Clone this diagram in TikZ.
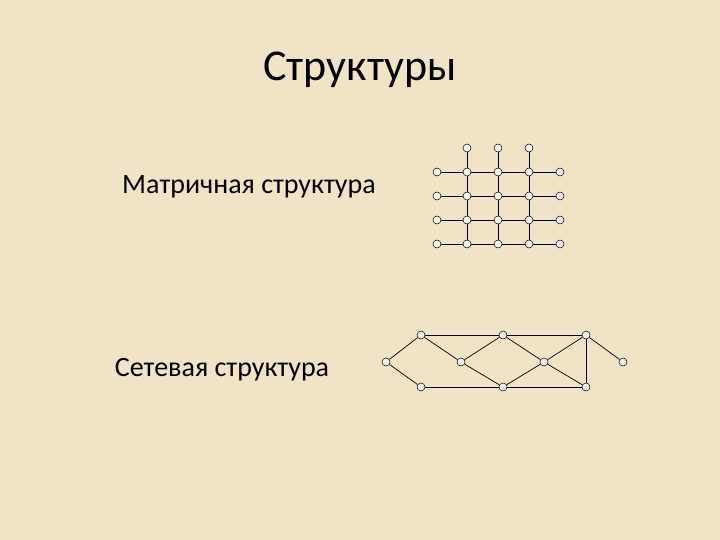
\documentclass[tikz,border=0pt]{standalone}
\usepackage{fontspec}
\setmainfont{Carlito}
\definecolor{parch}{HTML}{F1E3C6}
\definecolor{nodefill}{HTML}{F2F0EC}
\begin{document}
\begin{tikzpicture}[x=1pt,y=-1pt,
  dot/.style={circle,draw=black,fill=nodefill,line width=0.5pt,inner sep=0pt,minimum size=8pt},
  ln/.style={draw=black,line width=0.7pt}]
\fill[parch] (0,0) rectangle (720,540);
\node[font=\fontsize{44}{52}\selectfont] (title) at (360,70) {Структуры};
\node[font=\fontsize{28}{34}\selectfont] (lab1) at (249,187) {Матричная структура};
\node[font=\fontsize{28}{34}\selectfont] (lab2) at (222,370) {Сетевая структура};
% matrix
\foreach \c/\x in {1/437,2/467,3/498,4/529,5/560}{
  \foreach \r/\y in {2/172,3/196,4/220,5/244}{
    \node[dot] (m\c\r) at (\x,\y) {};
  }
}
\foreach \c/\x in {2/467,3/498,4/529}{ \node[dot] (m\c1) at (\x,148) {}; }
\foreach \r in {2,3,4,5}{
  \draw[ln] (m1\r)--(m2\r)--(m3\r)--(m4\r)--(m5\r);
}
\foreach \c in {2,3,4}{
  \draw[ln] (m\c1)--(m\c2)--(m\c3)--(m\c4)--(m\c5);
}
% network
\node[dot] (L) at (386,362) {};
\node[dot] (A) at (421,335) {};
\node[dot] (B) at (503,335) {};
\node[dot] (C) at (586,335) {};
\node[dot] (M1) at (461,362) {};
\node[dot] (M2) at (544,362) {};
\node[dot] (R) at (623,362) {};
\node[dot] (D) at (421,387) {};
\node[dot] (E) at (503,387) {};
\node[dot] (F) at (586,387) {};
\draw[ln] (A)--(B)--(C);
\draw[ln] (D)--(E)--(F);
\draw[ln] (L)--(A); \draw[ln] (L)--(D);
\draw[ln] (A)--(M1)--(B); \draw[ln] (M1)--(E);
\draw[ln] (B)--(M2)--(C); \draw[ln] (M2)--(E); \draw[ln] (M2)--(F);
\draw[ln] (C)--(F); \draw[ln] (C)--(R);
\end{tikzpicture}
\end{document}
